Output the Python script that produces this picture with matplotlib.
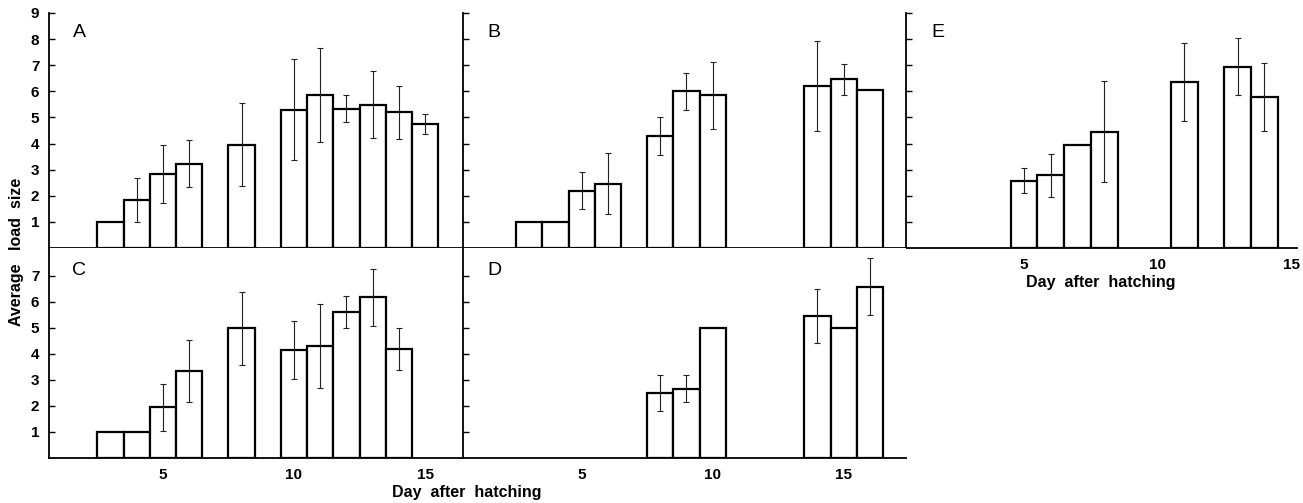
import matplotlib
matplotlib.use('Agg')
import matplotlib.pyplot as plt

# Average load size per day after hatching, five groups (A-E)
days_a = [3, 4, 5, 6, 8, 10, 11, 12, 13, 14, 15]
mean_a = [1.0, 1.83, 2.83, 3.23, 3.96, 5.29, 5.86, 5.33, 5.48, 5.19, 4.75]
sd_a = [0, 0.85, 1.1, 0.9, 1.6, 1.93, 1.8, 0.52, 1.28, 1.0, 0.38]

days_b = [3, 4, 5, 6, 8, 9, 10, 14, 15, 16]
mean_b = [1.0, 1.0, 2.2, 2.47, 4.29, 6.0, 5.85, 6.2, 6.46, 6.06]
sd_b = [0, 0, 0.72, 1.18, 0.72, 0.7, 1.29, 1.73, 0.6, 0]

days_c = [3, 4, 5, 6, 8, 10, 11, 12, 13, 14]
mean_c = [1.0, 1.0, 1.94, 3.34, 4.98, 4.14, 4.29, 5.6, 6.17, 4.17]
sd_c = [0, 0, 0.9, 1.18, 1.41, 1.1, 1.62, 0.62, 1.1, 0.81]

days_d = [8, 9, 10, 14, 15, 16]
mean_d = [2.48, 2.66, 5.0, 5.45, 5.0, 6.57]
sd_d = [0.69, 0.52, 0, 1.03, 0, 1.1]

days_e = [5, 6, 7, 8, 11, 13, 14]
mean_e = [2.58, 2.78, 3.96, 4.45, 6.35, 6.95, 5.77]
sd_e = [0.49, 0.81, 0, 1.93, 1.5, 1.1, 1.3]

W, H = 1303, 503
fig = plt.figure(figsize=(W / 100, H / 100), dpi=100)
plt.rcParams['font.family'] = ['Liberation Sans', 'DejaVu Sans']


def box(left, right, top, bottom):
    # pixel box -> figure fraction
    return [left / W, 1 - bottom / H, (right - left) / W, (bottom - top) / H]


def panel(rect, xlim, ylim, ytop, days, mean, sd, ylabels, xlabels):
    ax = fig.add_axes(box(*rect))
    ax.bar(days, mean, width=1.0, color='white', edgecolor='black',
           linewidth=1.6, zorder=2)
    d = [x for x, s in zip(days, sd) if s > 0]
    m = [y for y, s in zip(mean, sd) if s > 0]
    e = [s for s in sd if s > 0]
    ax.errorbar(d, m, yerr=e, fmt='none', ecolor='#222222', elinewidth=0.8,
                capsize=2.5, capthick=0.8, zorder=3)
    ax.set_xlim(*xlim)
    ax.set_ylim(*ylim)
    for s in ['top', 'right']:
        ax.spines[s].set_visible(False)
    for s in ['left', 'bottom']:
        ax.spines[s].set_linewidth(1.3)
    yt = list(range(1, ytop + 1))
    ax.set_yticks(yt)
    ax.tick_params(axis='y', direction='in', length=4, width=1, pad=7)
    ax.tick_params(axis='x', length=0, pad=7)
    if ylabels:
        ax.set_yticklabels([str(v) for v in yt], fontsize=11, fontweight='bold')
    else:
        ax.set_yticklabels([])
    if xlabels:
        ax.set_xticks([5, 10, 15])
        ax.set_xticklabels(['5', '10', '15'], fontsize=11, fontweight='bold')
    else:
        ax.set_xticks([])
    return ax


ax_a = panel((49, 463, 13, 248), (0.65, 16.45), (0, 9), 9, days_a, mean_a, sd_a, True, False)
ax_b = panel((463, 906, 13, 248), (0.47, 17.38), (0, 9), 9, days_b, mean_b, sd_b, False, False)
ax_e = panel((906, 1297, 13, 248), (0.58, 15.22), (0, 9), 9, days_e, mean_e, sd_e, False, True)
ax_c = panel((49, 463, 248, 458), (0.65, 16.45), (0, 8.06), 7, days_c, mean_c, sd_c, True, True)
ax_d = panel((463, 906, 248, 458), (0.47, 17.38), (0, 8.06), 7, days_d, mean_d, sd_d, False, True)

# panel letters
for ax, letter, x, y in [(ax_a, 'A', 0.058, 0.915), (ax_b, 'B', 0.056, 0.915),
                         (ax_e, 'E', 0.066, 0.915), (ax_c, 'C', 0.056, 0.895),
                         (ax_d, 'D', 0.056, 0.895)]:
    ax.text(x, y, letter, transform=ax.transAxes, fontsize=14,
            ha='left', va='center')

fig.text(17 / W, 1 - 252 / H, 'Average   load  size', rotation=90,
         ha='center', va='center', fontsize=11.5, fontweight='bold')
fig.text(467 / W, 1 - 492 / H, 'Day  after  hatching',
         ha='center', va='center', fontsize=11.5, fontweight='bold')
fig.text(1101 / W, 1 - 282 / H, 'Day  after  hatching',
         ha='center', va='center', fontsize=11.5, fontweight='bold')

fig.savefig('out.png', dpi=100)
